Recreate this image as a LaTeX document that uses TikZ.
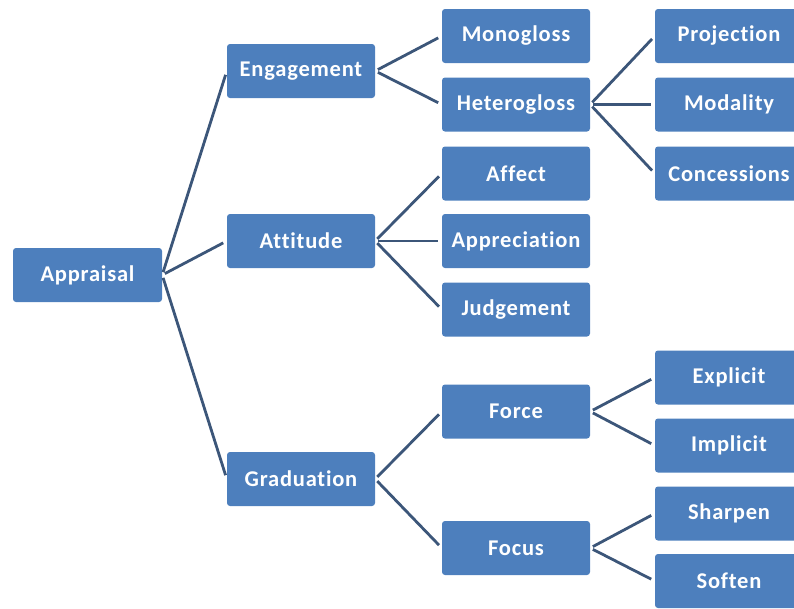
\documentclass[tikz,border=0pt]{standalone}
\usepackage{fontspec}
\setmainfont{Carlito}[LetterSpace=3.5,Ligatures=NoCommon]
\usepackage{tikz}
\usepackage{xcolor}
\definecolor{boxblue}{HTML}{4D7FBD}
\definecolor{linkblue}{HTML}{3C5679}

\begin{document}
\begin{tikzpicture}[x=1pt,y=-1pt,
  item/.style={fill=boxblue, rounded corners=3pt, minimum width=148pt,
    minimum height=54pt, inner sep=0pt, text=white,
    font=\fontsize{22.5}{26}\selectfont\bfseries},
  link/.style={draw=linkblue, line width=2.8pt, shorten <=3pt, shorten >=4pt}]
\useasboundingbox (0,0) rectangle (794,608);
\clip (0,0) rectangle (794,608);
% root
\node[item, minimum width=149pt] (app) at (87.5,275) {Appraisal};
% 1st level
\node[item] (eng) at (301,71) {Engagement};
\node[item] (att) at (301,241) {Attitude};
\node[item] (gra) at (301,479) {Graduation};
% 2nd level
\node[item] (mon) at (516,36) {Monogloss};
\node[item] (het) at (516,104.5) {Heterogloss};
\node[item] (aff) at (516,173.5) {Affect};
\node[item] (apr) at (516,241) {Appreciation};
\node[item] (jud) at (516,309.5) {Judgement};
\node[item] (frc) at (516,411.5) {Force};
\node[item] (foc) at (516,548) {Focus};
% 3rd level (cut off at the right)
\node[item] (pro) at (729,36) {Projection};
\node[item] (mod) at (729,104.5) {Modality};
\node[item] (con) at (729,173.5) {Concessions};
\node[item] (exp) at (729,377.5) {Explicit};
\node[item] (imp) at (729,445.5) {Implicit};
\node[item] (sha) at (729,513.5) {Sharpen};
\node[item] (sof) at (729,581) {Soften};
% links
\foreach \a/\b in {app/eng,app/att,app/gra,eng/mon,eng/het,att/aff,att/apr,att/jud,
  gra/frc,gra/foc,het/pro,het/mod,het/con,frc/exp,frc/imp,foc/sha,foc/sof}
  \draw[link] (\a.east) -- (\b.west);
\end{tikzpicture}
\end{document}
